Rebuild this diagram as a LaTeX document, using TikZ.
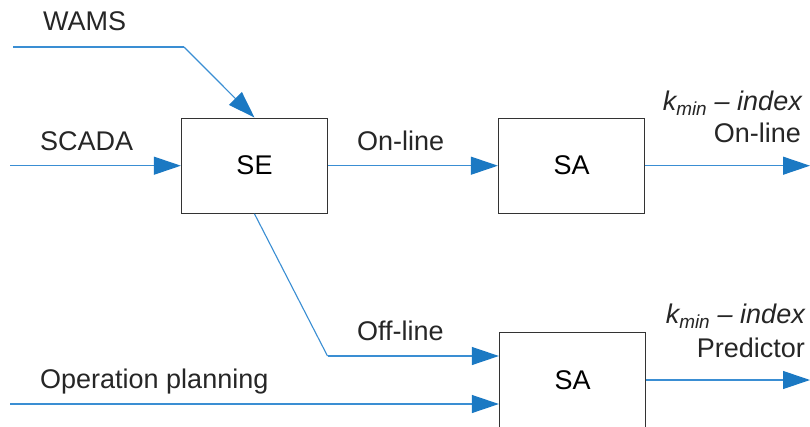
\documentclass[tikz,border=0pt]{standalone}
\usepackage{fontspec}
\setmainfont{Liberation Sans}
\usetikzlibrary{arrows.meta}
\definecolor{tipblue}{HTML}{1B79C3}
\definecolor{lineblue}{HTML}{3A8ED3}
\definecolor{boxgray}{HTML}{333333}
\tikzset{
  blk/.style={draw=boxgray, line width=1.3pt, minimum width=146pt, minimum height=95pt, inner sep=0pt, font=\fontsize{27}{33}\selectfont},
  lbl/.style={inner sep=0pt, font=\fontsize{27}{33}\selectfont, text=black!85},
  conn/.style={draw=lineblue, line width=1.1pt, -{Triangle[length=27pt,width=18pt,color=tipblue]}},
  wire/.style={draw=lineblue, line width=1.1pt}
}
\begin{document}
\begin{tikzpicture}[x=1pt,y=-1pt]
\clip (0,0) rectangle (810,426);
\fill[white] (0,0) rectangle (810,426);
% boxes
\node[blk] (SE) at (254.5,165.7) {SE};
\node[blk] (SA1) at (571.5,165.7) {SA};
\node[blk] (SA2) at (572.5,380) {SA};
% free ends
\coordinate (wamsS) at (13,47);
\coordinate (wamsB) at (184,47);
\coordinate (scadaS) at (10,165.7);
\coordinate (offB) at (327.5,356);
\coordinate (opS) at (10,404);
\coordinate (out1) at (810,165.7);
\coordinate (out2) at (810,380);
% connectors
\draw[wire] (wamsS) -- (wamsB);
\draw[conn] (wamsB) -- (SE.north);
\draw[conn] (scadaS) -- (SE.west);
\draw[conn] (SE.east) -- (SA1.west);
\draw[conn] (SA1.east) -- (out1);
\draw[wire] (SE.south) -- (offB);
\draw[conn] (offB) -- (offB -| SA2.west);
\draw[conn] (opS) -- (opS -| SA2.west);
\draw[conn] (SA2.east) -- (out2);
% labels
\node[lbl, anchor=base west] (lwams) at (43,30.7) {WAMS};
\node[lbl, anchor=base west] (lscada) at (40,150) {SCADA};
\node[lbl, anchor=base west] (lon) at (357,150) {On-line};
\node[lbl, anchor=base west] (loff) at (357,340) {Off-line};
\node[lbl, anchor=base west] (lop) at (40,388) {Operation planning};
\node[lbl, anchor=base east] (k1) at (802,110.7) {\itshape k\textsubscript{min} – index};
\node[lbl, anchor=base east] (lon2) at (801,142) {On-line};
\node[lbl, anchor=base east] (k2) at (805,323) {\itshape k\textsubscript{min} – index};
\node[lbl, anchor=base east] (lpred) at (805,357) {Predictor};
\end{tikzpicture}
\end{document}
